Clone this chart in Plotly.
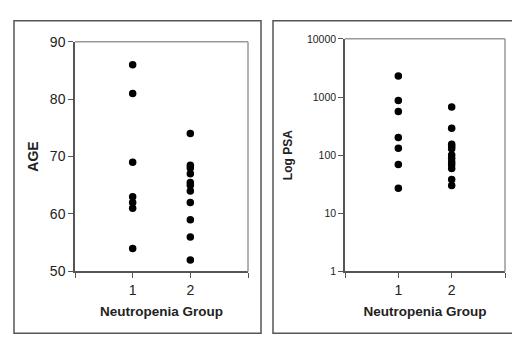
import plotly.graph_objects as go

# ---- data ----
age_group1 = [86, 81, 69, 63, 62, 61, 54]
age_group2 = [74, 68.5, 68, 67, 65.5, 65, 64, 62, 59, 56, 52]
psa_group1 = [2300, 870, 565, 201, 131, 69, 27]
psa_group2 = [675, 290, 154, 141, 129, 101, 88, 76, 68, 59, 38, 30]
x_ticks = [0, 1, 2, 3]
x_labels = ["", "1", "2", ""]
age_ticks = [50, 60, 70, 80, 90]
psa_ticks = [1, 10, 100, 1000, 10000]
psa_labels = ["1", "10", "100", "1000", "10000"]

W, H = 520, 340
def px(x):
    return x / W
def py(y):
    return 1 - y / H

fig = go.Figure()
mk = dict(color="black", size=7.5, symbol="circle")
fig.add_trace(go.Scatter(x=[1] * len(age_group1), y=age_group1, mode="markers", marker=mk,
                         xaxis="x", yaxis="y", showlegend=False))
fig.add_trace(go.Scatter(x=[2] * len(age_group2), y=age_group2, mode="markers", marker=mk,
                         xaxis="x", yaxis="y", showlegend=False))
fig.add_trace(go.Scatter(x=[1] * len(psa_group1), y=psa_group1, mode="markers", marker=mk,
                         xaxis="x2", yaxis="y2", showlegend=False))
fig.add_trace(go.Scatter(x=[2] * len(psa_group2), y=psa_group2, mode="markers", marker=mk,
                         xaxis="x2", yaxis="y2", showlegend=False))

font = "Liberation Sans, Arial, sans-serif"
axis_common = dict(showgrid=False, zeroline=False, showline=True, linecolor="#555555",
                   linewidth=1.5, ticks="outside", ticklen=5, tickcolor="#555555",
                   mirror=False)

fig.update_layout(
    width=W, height=H, margin=dict(l=0, r=0, t=0, b=0),
    paper_bgcolor="white", plot_bgcolor="white",
    font=dict(family=font, color="#222222"),
    xaxis=dict(domain=[px(67), px(240)], range=[0, 3], tickvals=x_ticks, ticktext=x_labels,
               tickfont=dict(size=14), anchor="y",
               title=dict(text="<b>Neutropenia Group</b>", font=dict(size=13.5), standoff=10),
               **axis_common),
    yaxis=dict(domain=[py(268), py(27)], range=[50, 90], tickvals=age_ticks,
               tickfont=dict(size=14), anchor="x",
               title=dict(text="<b>AGE</b>", font=dict(size=14), standoff=8),
               **axis_common),
    xaxis2=dict(domain=[px(337), px(497)], range=[0, 3], tickvals=x_ticks, ticktext=x_labels,
                tickfont=dict(size=14), anchor="y2",
                title=dict(text="<b>Neutropenia Group</b>", font=dict(size=13.5), standoff=10),
                **axis_common),
    yaxis2=dict(domain=[py(268), py(24)], type="log", range=[0, 4], tickvals=psa_ticks,
                ticktext=psa_labels, tickfont=dict(size=10.5), anchor="x2",
                title=dict(text="<b>Log PSA</b>", font=dict(size=12), standoff=12),
                **axis_common),
)

shapes = []
# outer frames
for (x0, x1) in [(6, 253), (265, 511)]:
    shapes.append(dict(type="rect", xref="paper", yref="paper",
                       x0=px(x0), x1=px(x1), y0=py(333), y1=py(5),
                       line=dict(color="#555555", width=1.5), fillcolor="rgba(0,0,0,0)"))
# plot area top / right borders (grey)
for (x0, x1, ytop) in [(67, 240, 27), (337, 497, 24)]:
    shapes.append(dict(type="line", xref="paper", yref="paper",
                       x0=px(x0), x1=px(x1), y0=py(ytop), y1=py(ytop),
                       line=dict(color="#999999", width=1.5)))
    shapes.append(dict(type="line", xref="paper", yref="paper",
                       x0=px(x1), x1=px(x1), y0=py(ytop), y1=py(268),
                       line=dict(color="#999999", width=1.5)))
fig.update_layout(shapes=shapes)

fig.write_html("out.html")
